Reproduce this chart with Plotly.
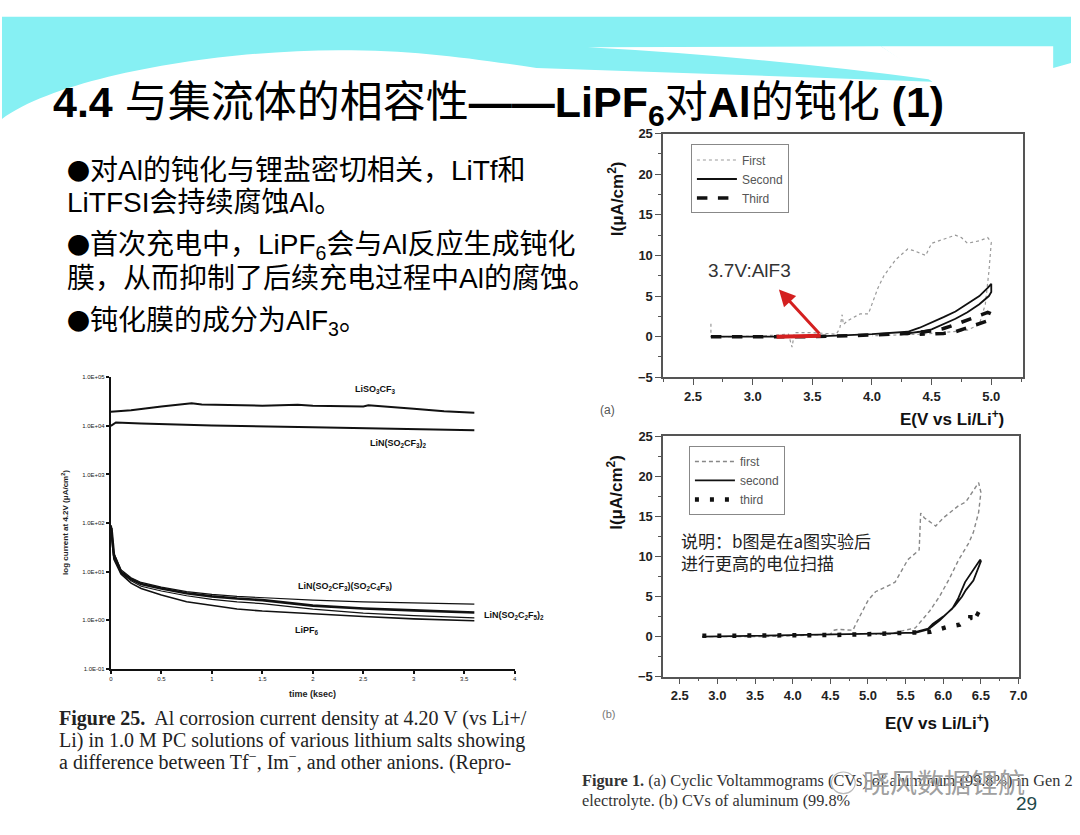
import plotly.graph_objects as go

W, H = 1080, 835
def PX(x): return x / W
def PY(y): return 1 - y / H

# ---------------- data: log plot (Figure 25) ----------------
t_high1 = [0, 0.2, 0.5, 0.8, 0.9, 1.2, 1.5, 1.85, 2.0, 2.5, 2.55, 3.0, 3.3, 3.6]
i_liso3cf3 = [1.95e4, 2.1e4, 2.5e4, 2.9e4, 2.75e4, 2.65e4, 2.6e4, 2.7e4, 2.6e4, 2.5e4, 2.65e4, 2.25e4, 2.0e4, 1.85e4]
t_high2 = [0, 0.05, 0.3, 1.0, 2.0, 3.0, 3.6]
i_litfsi = [1.0e4, 1.17e4, 1.12e4, 1.02e4, 9.3e3, 8.6e3, 8.1e3]
t_low = [0.005, 0.03, 0.1, 0.2, 0.3, 0.5, 0.75, 1.0, 1.25, 1.5, 2.0, 2.5, 3.0, 3.6]
i_c4f9 = [90, 24, 11, 7.5, 6.0, 4.8, 3.9, 3.4, 3.1, 2.9, 2.6, 2.4, 2.25, 2.15]
i_c2f5 = [80, 22, 10, 7.0, 5.6, 4.5, 3.6, 3.1, 2.8, 2.6, 2.0, 1.75, 1.6, 1.45]
i_other = [70, 20, 9.5, 6.5, 5.0, 4.0, 3.2, 2.7, 2.4, 2.2, 1.7, 1.4, 1.25, 1.12]
i_lipf6 = [60, 18, 9.0, 5.8, 4.5, 3.3, 2.4, 2.0, 1.7, 1.55, 1.35, 1.2, 1.07, 0.98]
log_ticks = [0.1, 1, 10, 100, 1000, 1e4, 1e5]
log_tick_text = ["1.0E-01", "1.0E+00", "1.0E+01", "1.0E+02", "1.0E+03", "1.0E+04", "1.0E+05"]
time_ticks = [0, 0.5, 1, 1.5, 2, 2.5, 3, 3.5, 4]
time_tick_text = ["0", "0.5", "1", "1.5", "2", "2.5", "3", "3.5", "4"]

# ---------------- data: CV (a) ----------------
a_first_x = [2.65, 2.65, 2.7, 2.9, 3.1, 3.3, 3.33, 3.35, 3.5, 3.7, 3.73, 3.75, 3.76, 3.8, 3.9, 3.97, 4.0, 4.05, 4.1, 4.2,
             4.3, 4.35, 4.45, 4.5, 4.6, 4.7, 4.75, 4.8, 4.9, 4.97, 5.0, 4.98, 4.95, 4.9, 4.8, 4.6, 4.4, 4.2, 4.0]
a_first_y = [1.6, 0, 0, 0, 0.1, 0.3, -1.3, 0.5, 0.5, 0.3, 1.0, 2.7, 1.5, 2.0, 2.8, 2.8, 4.0, 6.0, 7.5, 9.5,
             10.8, 10.6, 10.0, 11.5, 12.0, 12.5, 12.2, 11.5, 11.8, 12.2, 11.6, 8.0, 4.0, 1.5, 0.8, 0.5, 0.3, 0.2, 0.1]
a_second_x = [2.65, 3.0, 3.5, 4.0, 4.3, 4.4, 4.5, 4.6, 4.7, 4.8, 4.9, 4.97, 5.0, 5.0, 4.98, 4.9, 4.8, 4.7, 4.6, 4.5, 4.4, 4.3]
a_second_y = [0, 0, 0, 0.3, 0.6, 1.1, 1.7, 2.4, 3.1, 4.0, 5.0, 6.0, 6.5, 5.5, 5.0, 4.0, 3.0, 2.2, 1.5, 0.9, 0.6, 0.4]
a_third_x = [2.65, 3.0, 3.5, 4.0, 4.3, 4.5, 4.6, 4.7, 4.8, 4.9, 4.97, 5.0, 4.98, 4.9, 4.8, 4.7, 4.6, 4.5, 4.4]
a_third_y = [0, 0, 0, 0.2, 0.4, 0.7, 1.0, 1.5, 2.0, 2.6, 3.0, 2.8, 2.0, 1.6, 1.0, 0.6, 0.4, 0.3, 0.3]
a_red_x = [3.2, 3.57]
a_red_y = [0, 0.1]

# ---------------- data: CV (b) ----------------
b_first_x = [2.8, 3.5, 4.0, 4.5, 4.55, 4.6, 4.8, 4.84, 5.0, 5.1, 5.3, 5.36, 5.53, 5.68, 5.7, 5.75, 5.9, 6.0, 6.2, 6.3,
             6.47, 6.5, 6.47, 6.4, 6.34, 6.2, 6.08, 5.95, 5.82, 5.63, 5.4, 5.3, 5.1]
b_first_y = [0, 0, 0.1, 0.3, 0.8, 0.9, 0.8, 1.6, 4.5, 5.6, 6.5, 6.8, 9.6, 10.8, 15.4, 14.8, 13.8, 14.8, 16.3, 16.8,
             19.2, 18.0, 15.5, 13.0, 11.7, 9.5, 7.2, 5.0, 3.2, 1.1, 0.6, 0.3, 0.3]
b_second_x = [2.8, 3.5, 4.0, 4.5, 5.0, 5.3, 5.6, 5.8, 5.86, 6.0, 6.12, 6.18, 6.2, 6.29, 6.4, 6.49, 6.5, 6.45, 6.4,
              6.3, 6.25, 6.15, 6.08, 5.95, 5.8, 5.6]
b_second_y = [0, 0.1, 0.2, 0.2, 0.3, 0.4, 0.5, 1.0, 1.6, 2.5, 3.5, 4.5, 4.8, 6.8, 8.3, 9.6, 9.4, 8.2, 7.0,
              5.8, 5.0, 3.8, 3.2, 2.0, 0.9, 0.4]
b_third_x = [2.8, 3.5, 4.0, 4.5, 5.0, 5.4, 5.7, 5.83, 6.05, 6.22, 6.36, 6.36, 6.5]
b_third_y = [0.1, 0.1, 0.2, 0.2, 0.3, 0.4, 0.5, 0.6, 1.2, 1.5, 2.3, 3.3, 2.6]

fig = go.Figure()

# log plot traces
for tx, iy, w in [(t_high1, i_liso3cf3, 2), (t_high2, i_litfsi, 2), (t_low, i_c4f9, 1.2),
                  (t_low, i_c2f5, 2.6), (t_low, i_other, 1.2), (t_low, i_lipf6, 1.6)]:
    fig.add_trace(go.Scatter(x=tx, y=iy, xaxis="x3", yaxis="y3", mode="lines",
                             line=dict(color="#111", width=w), showlegend=False, hoverinfo="skip"))

# CV (a)
fig.add_trace(go.Scatter(x=a_first_x, y=a_first_y, xaxis="x", yaxis="y", mode="lines", name="First",
                         line=dict(color="#999", width=1.2, dash="dot"), legend="legend"))
fig.add_trace(go.Scatter(x=a_second_x, y=a_second_y, xaxis="x", yaxis="y", mode="lines", name="Second",
                         line=dict(color="#111", width=1.8), legend="legend"))
fig.add_trace(go.Scatter(x=a_third_x, y=a_third_y, xaxis="x", yaxis="y", mode="lines", name="Third",
                         line=dict(color="#111", width=3.5, dash="dash"), legend="legend"))
fig.add_trace(go.Scatter(x=a_red_x, y=a_red_y, xaxis="x", yaxis="y", mode="lines",
                         line=dict(color="#d42020", width=4), showlegend=False))

# CV (b)
fig.add_trace(go.Scatter(x=b_first_x, y=b_first_y, xaxis="x2", yaxis="y2", mode="lines", name="first",
                         line=dict(color="#888", width=1.4, dash="4px,3px"), legend="legend2"))
fig.add_trace(go.Scatter(x=b_second_x, y=b_second_y, xaxis="x2", yaxis="y2", mode="lines", name="second",
                         line=dict(color="#111", width=1.8), legend="legend2"))
fig.add_trace(go.Scatter(x=b_third_x, y=b_third_y, xaxis="x2", yaxis="y2", mode="lines", name="third",
                         line=dict(color="#111", width=4.5, dash="4px,11px"), legend="legend2"))

axfont = dict(family="Liberation Sans, Arial", size=13, color="#222", weight="bold")
def cv_x(dom, rng, dt0):
    return dict(domain=dom, range=rng, showline=True, linecolor="#555", linewidth=1.5, mirror=True,
                ticks="outside", ticklen=6, tickwidth=1.2, tickcolor="#555", tickfont=axfont,
                tick0=dt0, dtick=0.5, tickformat=".1f", showgrid=False, zeroline=False,
                minor=dict(ticks="outside", ticklen=3, dtick=0.25, tickcolor="#555"))
def cv_y(dom):
    return dict(domain=dom, range=[-5, 25], showline=True, linecolor="#555", linewidth=1.5, mirror=True,
                ticks="outside", ticklen=6, tickwidth=1.2, tickcolor="#555", tickfont=axfont,
                tick0=0, dtick=5, showgrid=False, zeroline=False,
                minor=dict(ticks="outside", ticklen=3, dtick=2.5, tickcolor="#555"))

smallfont = dict(family="Liberation Sans, Arial", size=6, color="#222")

cyan = "#86F0F3"
shapes = [
    dict(type="path", xref="paper", yref="paper", fillcolor=cyan, line=dict(width=0), layer="below",
         path=("M {} {} L {} {} L {} {} L {} {} L {} {} L {} {} L {} {} L {} {} C {} {}, {} {}, {} {} C {} {}, {} {}, {} {} Z").format(
             PX(0), PY(10), PX(1080), PY(10), PX(1080), PY(57), PX(1062), PY(62), PX(1062), PY(40),
             PX(888), PY(40), PX(940), PY(76), PX(540), PY(62),
             PX(470), PY(52), PX(420), PY(44), PX(340), PY(44),
             PX(220), PY(44), PX(60), PY(70), PX(0), PY(114))),
    dict(type="path", xref="paper", yref="paper", fillcolor="white", line=dict(width=0), layer="below",
         path="M {} {} L {} {} L {} {} Q {} {}, {} {} Z".format(
             PX(592), PY(41), PX(888), PY(40), PX(940), PY(74), PX(760), PY(50), PX(592), PY(41))),
    dict(type="circle", xref="paper", yref="paper", x0=PX(838), x1=PX(862), y0=PY(801), y1=PY(779),
         line=dict(color="#bbb", width=1.2)),
]

cjk = "Liberation Sans, Noto Sans CJK SC"
BUL = '<span style="font-family:Noto Sans CJK SC;font-size:23px">●</span>'
ann = []
def A(x, y, text, size, color="#000", family=cjk, xanchor="left", angle=0, **kw):
    ann.append(dict(x=PX(x), y=PY(y), xref="paper", yref="paper", text=text, showarrow=False,
                    xanchor=xanchor, yanchor="middle", textangle=angle,
                    font=dict(family=family, size=size, color=color), **kw))

A(50, 100, "<b>4.4</b> 与集流体的相容性<b>——LiPF<sub>6</sub></b>对<b>Al</b>的钝化 <b>(1)</b>", 43)
A(64, 166, BUL + "对Al的钝化与锂盐密切相关，LiTf和", 28)
A(64, 199, "LiTFSI会持续腐蚀Al。", 28)
A(64, 243, BUL + "首次充电中，LiPF<sub>6</sub>会与Al反应生成钝化", 28)
A(64, 276, "膜，从而抑制了后续充电过程中Al的腐蚀。", 28)
A(64, 320, BUL + "钝化膜的成分为AlF<sub>3</sub>。", 28)

serif = "Liberation Serif, Times New Roman"
A(56, 725, "<b>Figure 25.</b>  Al corrosion current density at 4.20 V (vs Li+/", 20, "#222", serif)
A(56, 746.5, "Li) in 1.0 M PC solutions of various lithium salts showing", 20, "#222", serif)
A(56, 768, "a difference between Tf<sup>−</sup>, Im<sup>−</sup>, and other anions. (Repro-", 20, "#222", serif)
A(584, 788, "<b>Figure 1.</b> (a) Cyclic Voltammograms (CVs) of aluminum (99.8%) in Gen 2", 16.3, "#333", serif)
A(584, 808, "electrolyte. (b) CVs of aluminum (99.8%", 16.3, "#333", serif)
A(868, 789, "晓风数据锂航", 27, "#a0a0a0", "Noto Sans CJK SC")
A(1048, 811, "29", 19, "#1f4a4a", "Liberation Sans", xanchor="right")

# CV labels
A(621, 195, "<b>I(μA/cm<sup>2</sup>)</b>", 17, "#111", "Liberation Sans", xanchor="center", angle=-90)
A(960, 419, "<b>E(V vs Li/Li<sup>+</sup>)</b>", 17, "#111", "Liberation Sans", xanchor="center")
A(602, 410, "(a)", 12, "#555", "Liberation Sans")
A(619, 494, "<b>I(μA/cm<sup>2</sup>)</b>", 17, "#111", "Liberation Sans", xanchor="center", angle=-90)
A(945, 728, "<b>E(V vs Li/Li<sup>+</sup>)</b>", 17, "#111", "Liberation Sans", xanchor="center")
A(604, 720, "(b)", 11, "#777", "Liberation Sans")
A(684, 554, "说明：b图是在a图实验后<br>进行更高的电位扫描", 17, "#222", "Noto Sans CJK SC", align="left")

# log plot labels
A(63, 525, "<b>log current at 4.2V (μA/cm<sup>2</sup>)</b>", 8, "#222", "Liberation Sans", xanchor="center", angle=-90)
A(314, 700, "<b>time (ksec)</b>", 9, "#222", "Liberation Sans", xanchor="center")

def D(x, y, text, xanchor="left"):
    ann.append(dict(x=x, y=y, xref="x3", yref="y3", text=text, showarrow=False, xanchor=xanchor,
                    yanchor="middle", font=dict(family="Liberation Sans", size=9, color="#111", weight="bold")))
D(2.4, 4.74, "LiSO<sub>3</sub>CF<sub>3</sub>")
D(2.55, 3.63, "LiN(SO<sub>2</sub>CF<sub>3</sub>)<sub>2</sub>")
D(1.83, 0.70, "LiN(SO<sub>2</sub>CF<sub>3</sub>)(SO<sub>2</sub>C<sub>4</sub>F<sub>9</sub>)")
D(3.68, 0.09, "LiN(SO<sub>2</sub>C<sub>2</sub>F<sub>5</sub>)<sub>2</sub>")
D(1.8, -0.21, "LiPF<sub>6</sub>")

# CV (a) annotations
ann.append(dict(x=3.22, y=5.8, ax=3.57, ay=0.2, xref="x", yref="y", axref="x", ayref="y", text="",
                showarrow=True, arrowcolor="#d42020", arrowwidth=3, arrowhead=2, arrowsize=1.1))
ann.append(dict(x=2.97, y=8.1, xref="x", yref="y", text="3.7V:AlF3", showarrow=False,
                font=dict(family="Liberation Sans", size=19, color="#333")))

legfont = dict(family="Liberation Sans, Arial", size=12, color="#555")
fig.update_layout(
    width=W, height=H, margin=dict(l=0, r=0, t=0, b=0),
    paper_bgcolor="white", plot_bgcolor="rgba(0,0,0,0)",
    xaxis=cv_x([PX(668), PX(1032)], [2.25, 5.27], 2.5),
    yaxis=cv_y([PY(377), PY(129)]),
    xaxis2=cv_x([PX(668), PX(1027)], [2.28, 7.0], 2.5),
    yaxis2=dict(cv_y([PY(682), PY(437)]), anchor="x2"),
    xaxis3=dict(domain=[PX(110), PX(518)], range=[0, 4], anchor="y3", showline=True, linecolor="#111",
                linewidth=2, ticks="outside", ticklen=3, tickwidth=2, tickcolor="#111",
                tickvals=time_ticks, ticktext=time_tick_text, tickfont=smallfont,
                showgrid=False, zeroline=False),
    yaxis3=dict(domain=[PY(674), PY(377)], type="log", range=[-1, 5], anchor="x3", showline=True,
                linecolor="#111", linewidth=2, ticks="outside", ticklen=3, tickwidth=2, tickcolor="#111",
                tickvals=log_ticks, ticktext=log_tick_text, tickfont=smallfont,
                showgrid=False, zeroline=False),
    legend=dict(x=PX(696), y=PY(140), xanchor="left", yanchor="top", bgcolor="white",
                bordercolor="#888", borderwidth=1, font=legfont, tracegroupgap=0,
                itemwidth=40),
    legend2=dict(x=PX(694), y=PY(447), xanchor="left", yanchor="top", bgcolor="white",
                 bordercolor="#888", borderwidth=1, font=legfont, tracegroupgap=0,
                 itemwidth=40),
    shapes=shapes, annotations=ann,
)
fig.layout.xaxis2.anchor = "y2"
fig.layout.yaxis.anchor = "x"
fig.layout.xaxis.anchor = "y"

fig.write_html("out.html", config={"displayModeBar": False},
               post_script="document.body.style.margin='0px';document.body.style.overflow='hidden';")
